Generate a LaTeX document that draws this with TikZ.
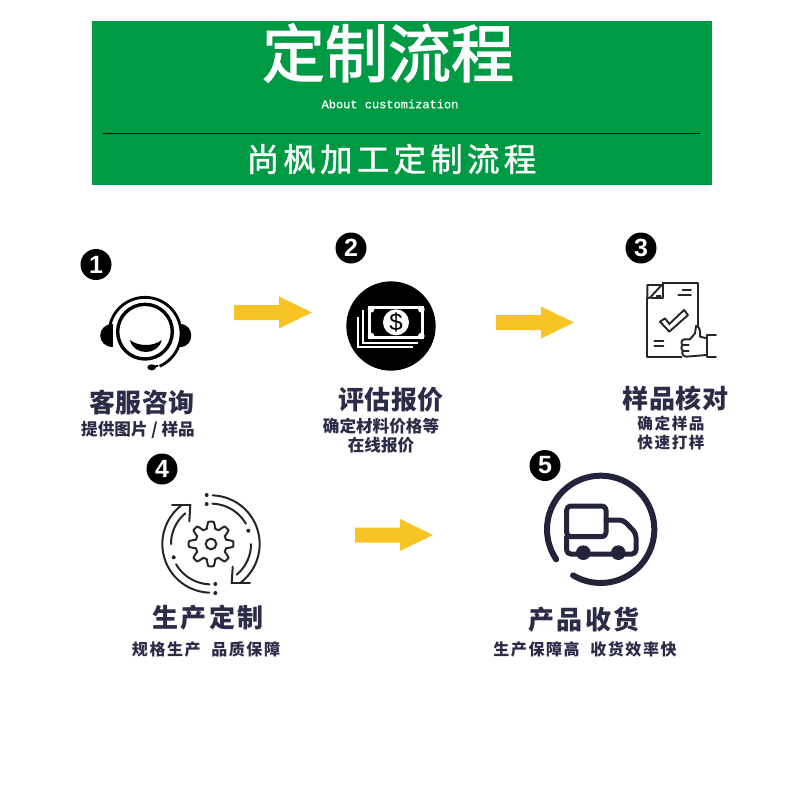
\documentclass[tikz,border=0pt]{standalone}
\usepackage{fontspec}
\setmainfont{Noto Sans CJK SC}
\newfontfamily\cjk{Noto Sans CJK SC}
\newfontfamily\cjktitle[FakeBold=2]{Noto Sans CJK SC}
\newfontfamily\cjkwide[LetterSpace=13,FakeBold=1.2]{Noto Sans CJK SC}
\newfontfamily\cjkhead[LetterSpace=2]{Noto Sans CJK SC}
\newfontfamily\cjkheadw[LetterSpace=9]{Noto Sans CJK SC}
\newfontfamily\cjksub[LetterSpace=10]{Noto Sans CJK SC}
\newfontfamily\monoen[FakeBold=0.6]{Liberation Mono}
\newfontfamily\digit{Liberation Sans}
\definecolor{banner}{HTML}{009A44}
\definecolor{arrowy}{HTML}{F7C325}
\definecolor{ink}{HTML}{2C2C48}
\definecolor{iconk}{HTML}{23233A}
\newcommand{\parc}[5]{plot[domain=#4:#5,samples=60] ({#1+#3*cos(\x)},{#2+#3*sin(\x)})}
\tikzset{
  headlabel/.style={inner sep=0pt,text=ink,font={\cjkhead\bfseries\fontsize{26}{29}\selectfont}},
  sublabel/.style={inner sep=0pt,text=ink,align=center,font={\cjk\bfseries\fontsize{16.6}{19.5}\selectfont}},
  sublabelw/.style={inner sep=0pt,text=ink,align=center,font={\cjksub\bfseries\fontsize{16}{19}\selectfont}},
  badge/.style={circle,fill=black,text=white,minimum size=31pt,inner sep=0pt,font={\digit\bfseries\fontsize{25}{25}\selectfont}},
  pics/blockarrow/.style={code={\fill[arrowy] (0,-7.5) -- (45,-7.5) -- (45,-16) -- (78,0) -- (45,16) -- (45,7.5) -- (0,7.5) -- cycle;}},
  thin icon/.style={draw=black!85,line width=1.9pt,line join=round,line cap=round},
}
\begin{document}
\begin{tikzpicture}[x=1pt,y=-1pt]
\useasboundingbox (0,0) rectangle (790,800);
\fill[white] (0,0) rectangle (790,800);
% banner
\fill[banner] (92,21) rectangle (712,185);
\node[inner sep=0pt,text=white,font={\cjktitle\fontsize{63}{70}\selectfont}] (title) at (388,53) {定制流程};
\node[inner sep=0pt,text=white,font={\monoen\fontsize{12}{14}\selectfont}] (about) at (390,104) {About customization};
\draw[black,line width=0.8pt] (103,133.5) -- (700,133.5);
\node[inner sep=0pt,text=white,font={\cjkwide\fontsize{32.5}{36}\selectfont}] (sub) at (391.5,159) {尚枫加工定制流程};
% badges
\node[badge] (b1) at (96,264.5) {1};
\node[badge] (b2) at (351,248) {2};
\node[badge] (b3) at (641,248) {3};
\node[badge] (b4) at (162,469) {4};
\node[badge] (b5) at (545,465.5) {5};
% arrows
\pic at (234,312.5) {blockarrow};
\pic at (496,322.5) {blockarrow};
\pic at (355,535) {blockarrow};
% icon 1
\begin{scope}[shift={(70,230)},scale=1/3]
\draw[black,line width=3.4pt] (225,305) circle (82);
\draw[black,line width=2.8pt] \parc{225}{310}{108}{-190}{66};
\fill[black] (128,283) .. controls (77,283) and (77,350) .. (128,350) -- cycle;
\fill[black] (330,283) .. controls (375,283) and (375,350) .. (330,350) -- cycle;
\fill[black] (180,330) .. controls (205,350) and (250,350) .. (275,330) .. controls (265,378) and (190,378) .. (180,330) -- cycle;
\draw[black,line width=1.8pt] (265,407) -- (245,412);
\fill[black] (245,412) ellipse (13 and 9);
\end{scope}
% icon 2
\begin{scope}[shift={(320,230)},scale=1/3]
\fill[black] (213,288) circle (134);
\draw[white,line width=2.2pt] (130,240) -- (130,338) -- (295,338);
\draw[white,line width=2.2pt] (113,262) -- (113,352) -- (280,352);
\fill[white] (145,228) rectangle (312,328);
\fill[black] (153,238) rectangle (304,318);
\foreach \cx/\cy in {153/238,304/238,153/318,304/318} \fill[white] (\cx,\cy) circle (10);
\fill[white] (228,277) circle (39);
\node[inner sep=0pt,text=black,font={\digit\fontsize{24}{24}\selectfont}] (dollar) at (228,277) {\$};
\end{scope}
% icon 3
\begin{scope}[shift={(610,230)},scale=1/3,thin icon]
\draw (160,158) -- (265,158) -- (265,290);
\draw (112,205) -- (112,380) -- (215,380);
\draw (112,165) -- (155,165) -- (120,203) -- (112,205) -- cycle;
\draw (160,158) -- (160,205) -- (125,205);
\draw (140,197) -- (152,197);
\draw (218,180) -- (243,180);
\draw (205,195) -- (243,195);
\draw (150,275) -- (165,265) -- (178,282) -- (222,240) -- (234,255) -- (178,305) -- cycle;
\draw (133,333) -- (160,333);
\draw (133,348) -- (160,348);
\draw (318,315) -- (290,315) -- (290,380) -- (318,380);
\draw (290,325) -- (270,320) .. controls (272,300) and (268,290) .. (258,288) -- (255,310) -- (240,328) -- (222,328) .. controls (212,330) and (212,345) .. (220,345) .. controls (212,347) and (212,360) .. (220,362) .. controls (214,365) and (216,378) .. (228,380) -- (290,375);
\draw (220,345) -- (236,345);
\draw (220,362) -- (236,362);
\end{scope}
% icon 4
\begin{scope}[shift={(140,450)},scale=1/3,draw=black!85,line width=2pt,line cap=round,line join=round]
\foreach \sg/\off in {1/0,-1/180}{
  \draw \parc{213}{282}{146}{\off-88}{\off+52};
  \draw \parc{213}{282}{121}{\off-88}{\off-30};
  \draw \parc{213}{282}{120}{\off+0}{\off+50};
  \draw ({213+\sg*20.7*3},{282+\sg*39.3*3}) -- ({213+\sg*39*3},{282+\sg*39.3*3});
  \draw ({213+\sg*20.7*3},{282+\sg*39.3*3}) -- ({213+\sg*21.7*3},{282+\sg*22.7*3});
  \fill[black!85] ({213+\sg*(-4.3)*3},{282+\sg*(-49)*3}) circle (6);
  \fill[black!85] ({213+\sg*(-4.3)*3},{282+\sg*(-40)*3}) circle (6);
  \fill[black!85] ({213+\sg*37.3*3},{282+\sg*(-13.3)*3}) circle (6);
}
\draw plot[domain=0:360,samples=161] ({213+(57+10*max(-1,min(1,1.7*cos(8*\x))))*cos(\x)},{282+(57+10*max(-1,min(1,1.7*cos(8*\x))))*sin(\x)}) -- cycle;
\draw (213,282) circle (16);
\end{scope}
% icon 5
\begin{scope}[shift={(520,450)},scale=1/3,draw=iconk,line cap=round,line join=round]
\draw[line width=6pt] \parc{242}{238}{161}{146}{481};
\draw[line width=5pt,rounded corners=4pt] (140,168) rectangle (258,260);
\draw[line width=5pt,rounded corners=4pt] (140,260) -- (140,312) -- (348,312) -- (348,250) -- (310,210) -- (258,210);
\fill[iconk] (190,308) circle (22);
\fill[iconk] (295,308) circle (22);
\end{scope}
% labels
\node[headlabel] (l1) at (142,402) {客服咨询};
\node[sublabel] (s1) at (138,430) {提供图片 / 样品};
\node[headlabel] (l2) at (391,400) {评估报价};
\node[sublabel] (s2) at (381,435.5) {确定材料价格等\\在线报价};
\node[headlabel] (l3) at (675.5,398) {样品核对};
\node[sublabelw,font={\cjksub\bfseries\fontsize{15.6}{19}\selectfont}] (s3) at (671,433.5) {确定样品\\快速打样};
\node[headlabel,font={\cjkheadw\bfseries\fontsize{26}{29}\selectfont}] (l4) at (208,618) {生产定制};
\node[sublabelw] (s4) at (206,649.5) {规格生产\ \ 品质保障};
\node[headlabel,font={\cjkheadw\bfseries\fontsize{26}{29}\selectfont}] (l5) at (584,620) {产品收货};
\node[sublabelw] (s5) at (585,649.5) {生产保障高\ \ 收货效率快};
\end{tikzpicture}
\end{document}
